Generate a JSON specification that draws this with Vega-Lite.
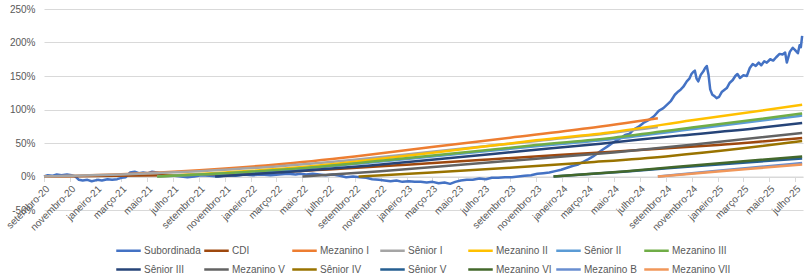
{
  "$schema": "https://vega.github.io/schema/vega-lite/v6.json",
  "width": 759,
  "height": 201,
  "autosize": {"type": "none"},
  "padding": {"left": 44, "top": 9, "right": 5, "bottom": 63},
  "config": {"view": {"stroke": null}, "font": "Liberation Sans"},
  "datasets": {
    "sub": [
      {"s":"Subordinada","d":"2020-09-01","v":0.00},{"s":"Subordinada","d":"2020-09-10","v":0.02},{"s":"Subordinada","d":"2020-09-20","v":0.01},
      {"s":"Subordinada","d":"2020-10-01","v":0.03},{"s":"Subordinada","d":"2020-10-12","v":0.02},{"s":"Subordinada","d":"2020-10-25","v":0.03},
      {"s":"Subordinada","d":"2020-11-05","v":0.02},{"s":"Subordinada","d":"2020-11-14","v":0.00},{"s":"Subordinada","d":"2020-11-22","v":-0.05},
      {"s":"Subordinada","d":"2020-12-01","v":-0.06},{"s":"Subordinada","d":"2020-12-12","v":-0.05},{"s":"Subordinada","d":"2020-12-22","v":-0.07},
      {"s":"Subordinada","d":"2021-01-05","v":-0.05},{"s":"Subordinada","d":"2021-01-15","v":-0.06},{"s":"Subordinada","d":"2021-01-28","v":-0.04},
      {"s":"Subordinada","d":"2021-02-08","v":-0.05},{"s":"Subordinada","d":"2021-02-20","v":-0.04},{"s":"Subordinada","d":"2021-03-02","v":-0.02},
      {"s":"Subordinada","d":"2021-03-12","v":-0.01},{"s":"Subordinada","d":"2021-03-22","v":0.06},{"s":"Subordinada","d":"2021-04-02","v":0.07},
      {"s":"Subordinada","d":"2021-04-12","v":0.05},{"s":"Subordinada","d":"2021-04-22","v":0.06},{"s":"Subordinada","d":"2021-05-03","v":0.05},
      {"s":"Subordinada","d":"2021-05-13","v":0.07},{"s":"Subordinada","d":"2021-05-25","v":0.06},{"s":"Subordinada","d":"2021-06-05","v":0.03},
      {"s":"Subordinada","d":"2021-06-20","v":0.02},{"s":"Subordinada","d":"2021-07-05","v":0.01},{"s":"Subordinada","d":"2021-07-20","v":0.00},
      {"s":"Subordinada","d":"2021-08-04","v":-0.01},{"s":"Subordinada","d":"2021-08-20","v":0.00},{"s":"Subordinada","d":"2021-09-05","v":0.02},
      {"s":"Subordinada","d":"2021-09-25","v":0.01},{"s":"Subordinada","d":"2021-10-15","v":0.00},{"s":"Subordinada","d":"2021-11-05","v":0.02},
      {"s":"Subordinada","d":"2021-11-25","v":0.01},{"s":"Subordinada","d":"2021-12-15","v":0.03},{"s":"Subordinada","d":"2022-01-05","v":0.02},
      {"s":"Subordinada","d":"2022-01-25","v":0.03},{"s":"Subordinada","d":"2022-02-15","v":0.02},{"s":"Subordinada","d":"2022-03-07","v":0.03},
      {"s":"Subordinada","d":"2022-03-28","v":0.04},{"s":"Subordinada","d":"2022-04-15","v":0.03},{"s":"Subordinada","d":"2022-04-26","v":0.04},
      {"s":"Subordinada","d":"2022-05-10","v":0.03},{"s":"Subordinada","d":"2022-05-25","v":0.04},{"s":"Subordinada","d":"2022-06-10","v":0.03},
      {"s":"Subordinada","d":"2022-06-25","v":0.02},{"s":"Subordinada","d":"2022-07-12","v":0.03},{"s":"Subordinada","d":"2022-07-28","v":0.01},
      {"s":"Subordinada","d":"2022-08-12","v":-0.01},{"s":"Subordinada","d":"2022-08-28","v":0.00},{"s":"Subordinada","d":"2022-09-13","v":-0.01},
      {"s":"Subordinada","d":"2022-09-28","v":-0.02},{"s":"Subordinada","d":"2022-10-12","v":-0.04},{"s":"Subordinada","d":"2022-10-28","v":-0.05},
      {"s":"Subordinada","d":"2022-11-10","v":-0.06},{"s":"Subordinada","d":"2022-11-24","v":-0.07},{"s":"Subordinada","d":"2022-12-08","v":-0.06},
      {"s":"Subordinada","d":"2022-12-22","v":-0.08},{"s":"Subordinada","d":"2023-01-06","v":-0.07},{"s":"Subordinada","d":"2023-01-20","v":-0.08},
      {"s":"Subordinada","d":"2023-02-03","v":-0.08},{"s":"Subordinada","d":"2023-02-17","v":-0.09},{"s":"Subordinada","d":"2023-03-03","v":-0.08},
      {"s":"Subordinada","d":"2023-03-17","v":-0.10},{"s":"Subordinada","d":"2023-03-31","v":-0.09},{"s":"Subordinada","d":"2023-04-13","v":-0.11},
      {"s":"Subordinada","d":"2023-04-25","v":-0.08},{"s":"Subordinada","d":"2023-05-08","v":-0.06},{"s":"Subordinada","d":"2023-05-22","v":-0.05},
      {"s":"Subordinada","d":"2023-06-05","v":-0.05},{"s":"Subordinada","d":"2023-06-21","v":-0.03},{"s":"Subordinada","d":"2023-07-06","v":-0.04},
      {"s":"Subordinada","d":"2023-07-20","v":-0.02},{"s":"Subordinada","d":"2023-08-04","v":-0.02},{"s":"Subordinada","d":"2023-08-20","v":-0.01},
      {"s":"Subordinada","d":"2023-09-05","v":-0.01},{"s":"Subordinada","d":"2023-09-20","v":0.00},{"s":"Subordinada","d":"2023-10-05","v":0.01},
      {"s":"Subordinada","d":"2023-10-20","v":0.02},{"s":"Subordinada","d":"2023-11-04","v":0.04},{"s":"Subordinada","d":"2023-11-18","v":0.05},
      {"s":"Subordinada","d":"2023-12-02","v":0.06},{"s":"Subordinada","d":"2023-12-16","v":0.08},{"s":"Subordinada","d":"2023-12-30","v":0.10},
      {"s":"Subordinada","d":"2024-01-13","v":0.13},{"s":"Subordinada","d":"2024-01-27","v":0.16},{"s":"Subordinada","d":"2024-02-08","v":0.18},
      {"s":"Subordinada","d":"2024-02-20","v":0.22},{"s":"Subordinada","d":"2024-03-03","v":0.26},{"s":"Subordinada","d":"2024-03-14","v":0.30},
      {"s":"Subordinada","d":"2024-03-25","v":0.35},{"s":"Subordinada","d":"2024-04-05","v":0.40},{"s":"Subordinada","d":"2024-04-17","v":0.45},
      {"s":"Subordinada","d":"2024-05-01","v":0.51},{"s":"Subordinada","d":"2024-05-14","v":0.56},{"s":"Subordinada","d":"2024-05-28","v":0.62},
      {"s":"Subordinada","d":"2024-06-08","v":0.64},{"s":"Subordinada","d":"2024-06-17","v":0.70},{"s":"Subordinada","d":"2024-06-28","v":0.74},
      {"s":"Subordinada","d":"2024-07-10","v":0.80},{"s":"Subordinada","d":"2024-07-22","v":0.84},{"s":"Subordinada","d":"2024-08-04","v":0.90},
      {"s":"Subordinada","d":"2024-08-15","v":0.98},{"s":"Subordinada","d":"2024-08-26","v":1.02},{"s":"Subordinada","d":"2024-09-05","v":1.08},
      {"s":"Subordinada","d":"2024-09-13","v":1.13},{"s":"Subordinada","d":"2024-09-22","v":1.22},{"s":"Subordinada","d":"2024-09-30","v":1.27},
      {"s":"Subordinada","d":"2024-10-06","v":1.30},{"s":"Subordinada","d":"2024-10-12","v":1.34},{"s":"Subordinada","d":"2024-10-20","v":1.42},
      {"s":"Subordinada","d":"2024-10-26","v":1.46},{"s":"Subordinada","d":"2024-10-31","v":1.53},{"s":"Subordinada","d":"2024-11-04","v":1.56},
      {"s":"Subordinada","d":"2024-11-08","v":1.58},{"s":"Subordinada","d":"2024-11-12","v":1.46},{"s":"Subordinada","d":"2024-11-16","v":1.42},
      {"s":"Subordinada","d":"2024-11-22","v":1.52},{"s":"Subordinada","d":"2024-11-28","v":1.57},{"s":"Subordinada","d":"2024-12-02","v":1.62},
      {"s":"Subordinada","d":"2024-12-06","v":1.65},{"s":"Subordinada","d":"2024-12-10","v":1.52},{"s":"Subordinada","d":"2024-12-14","v":1.30},
      {"s":"Subordinada","d":"2024-12-19","v":1.22},{"s":"Subordinada","d":"2024-12-24","v":1.20},{"s":"Subordinada","d":"2024-12-29","v":1.17},
      {"s":"Subordinada","d":"2025-01-04","v":1.19},{"s":"Subordinada","d":"2025-01-10","v":1.26},{"s":"Subordinada","d":"2025-01-16","v":1.29},
      {"s":"Subordinada","d":"2025-01-22","v":1.32},{"s":"Subordinada","d":"2025-01-29","v":1.40},{"s":"Subordinada","d":"2025-02-05","v":1.44},
      {"s":"Subordinada","d":"2025-02-11","v":1.50},{"s":"Subordinada","d":"2025-02-16","v":1.53},{"s":"Subordinada","d":"2025-02-22","v":1.47},
      {"s":"Subordinada","d":"2025-03-02","v":1.51},{"s":"Subordinada","d":"2025-03-10","v":1.50},{"s":"Subordinada","d":"2025-03-17","v":1.62},
      {"s":"Subordinada","d":"2025-03-24","v":1.68},{"s":"Subordinada","d":"2025-03-31","v":1.65},{"s":"Subordinada","d":"2025-04-07","v":1.70},
      {"s":"Subordinada","d":"2025-04-13","v":1.66},{"s":"Subordinada","d":"2025-04-20","v":1.72},{"s":"Subordinada","d":"2025-04-26","v":1.70},
      {"s":"Subordinada","d":"2025-05-04","v":1.75},{"s":"Subordinada","d":"2025-05-11","v":1.73},{"s":"Subordinada","d":"2025-05-18","v":1.78},
      {"s":"Subordinada","d":"2025-05-26","v":1.83},{"s":"Subordinada","d":"2025-06-02","v":1.82},{"s":"Subordinada","d":"2025-06-08","v":1.85},
      {"s":"Subordinada","d":"2025-06-12","v":1.70},{"s":"Subordinada","d":"2025-06-19","v":1.86},{"s":"Subordinada","d":"2025-06-26","v":1.92},
      {"s":"Subordinada","d":"2025-07-01","v":1.89},{"s":"Subordinada","d":"2025-07-08","v":1.84},{"s":"Subordinada","d":"2025-07-12","v":1.96},
      {"s":"Subordinada","d":"2025-07-15","v":1.93},{"s":"Subordinada","d":"2025-07-18","v":2.10}
    ],
    "other": [
      {"s":"CDI","d":"2020-09-01","v":0},{"s":"CDI","d":"2021-01-01","v":0.007},{"s":"CDI","d":"2021-07-01","v":0.02},{"s":"CDI","d":"2022-01-01","v":0.05},
      {"s":"CDI","d":"2022-07-01","v":0.105},{"s":"CDI","d":"2023-01-01","v":0.175},{"s":"CDI","d":"2023-07-01","v":0.25},{"s":"CDI","d":"2024-01-01","v":0.325},
      {"s":"CDI","d":"2024-07-01","v":0.395},{"s":"CDI","d":"2025-01-01","v":0.47},{"s":"CDI","d":"2025-07-18","v":0.575},
      {"s":"Mezanino I","d":"2020-09-01","v":0},{"s":"Mezanino I","d":"2021-03-01","v":0.035},{"s":"Mezanino I","d":"2021-09-01","v":0.095},
      {"s":"Mezanino I","d":"2022-03-01","v":0.18},{"s":"Mezanino I","d":"2022-09-01","v":0.30},{"s":"Mezanino I","d":"2023-03-01","v":0.44},
      {"s":"Mezanino I","d":"2023-09-01","v":0.58},{"s":"Mezanino I","d":"2024-03-01","v":0.72},{"s":"Mezanino I","d":"2024-08-13","v":0.87},
      {"s":"Sênior I","d":"2020-09-01","v":0},{"s":"Sênior I","d":"2021-03-01","v":0.03},{"s":"Sênior I","d":"2021-09-01","v":0.08},
      {"s":"Sênior I","d":"2022-03-01","v":0.15},{"s":"Sênior I","d":"2022-09-01","v":0.25},{"s":"Sênior I","d":"2023-03-01","v":0.37},
      {"s":"Sênior I","d":"2023-09-01","v":0.49},{"s":"Sênior I","d":"2024-03-01","v":0.61},{"s":"Sênior I","d":"2024-08-13","v":0.74},
      {"s":"Mezanino II","d":"2021-05-25","v":0},{"s":"Mezanino II","d":"2021-11-01","v":0.06},{"s":"Mezanino II","d":"2022-05-01","v":0.14},
      {"s":"Mezanino II","d":"2022-11-01","v":0.265},{"s":"Mezanino II","d":"2023-05-01","v":0.40},{"s":"Mezanino II","d":"2023-11-01","v":0.54},
      {"s":"Mezanino II","d":"2024-05-01","v":0.665},{"s":"Mezanino II","d":"2024-11-01","v":0.84},{"s":"Mezanino II","d":"2025-07-18","v":1.07},
      {"s":"Sênior II","d":"2021-05-25","v":0},{"s":"Sênior II","d":"2021-11-01","v":0.045},{"s":"Sênior II","d":"2022-05-01","v":0.115},
      {"s":"Sênior II","d":"2022-11-01","v":0.225},{"s":"Sênior II","d":"2023-05-01","v":0.335},{"s":"Sênior II","d":"2023-11-01","v":0.45},
      {"s":"Sênior II","d":"2024-05-01","v":0.56},{"s":"Sênior II","d":"2024-11-01","v":0.705},{"s":"Sênior II","d":"2025-07-18","v":0.91},
      {"s":"Mezanino III","d":"2021-05-25","v":0},{"s":"Mezanino III","d":"2021-11-01","v":0.05},{"s":"Mezanino III","d":"2022-05-01","v":0.125},
      {"s":"Mezanino III","d":"2022-11-01","v":0.235},{"s":"Mezanino III","d":"2023-05-01","v":0.35},{"s":"Mezanino III","d":"2023-11-01","v":0.47},
      {"s":"Mezanino III","d":"2024-05-01","v":0.58},{"s":"Mezanino III","d":"2024-11-01","v":0.73},{"s":"Mezanino III","d":"2025-07-18","v":0.94},
      {"s":"Sênior III","d":"2021-10-08","v":0},{"s":"Sênior III","d":"2022-04-01","v":0.07},{"s":"Sênior III","d":"2022-10-01","v":0.16},
      {"s":"Sênior III","d":"2023-04-01","v":0.27},{"s":"Sênior III","d":"2023-10-01","v":0.38},{"s":"Sênior III","d":"2024-04-01","v":0.49},
      {"s":"Sênior III","d":"2024-10-01","v":0.61},{"s":"Sênior III","d":"2025-04-01","v":0.72},{"s":"Sênior III","d":"2025-07-18","v":0.80},
      {"s":"Mezanino V","d":"2022-05-01","v":0},{"s":"Mezanino V","d":"2022-11-01","v":0.08},{"s":"Mezanino V","d":"2023-05-01","v":0.17},
      {"s":"Mezanino V","d":"2023-11-01","v":0.265},{"s":"Mezanino V","d":"2024-05-01","v":0.36},{"s":"Mezanino V","d":"2024-11-01","v":0.475},
      {"s":"Mezanino V","d":"2025-07-18","v":0.65},
      {"s":"Sênior IV","d":"2022-09-10","v":0},{"s":"Sênior IV","d":"2023-03-01","v":0.06},{"s":"Sênior IV","d":"2023-09-01","v":0.13},
      {"s":"Sênior IV","d":"2024-03-01","v":0.21},{"s":"Sênior IV","d":"2024-09-01","v":0.30},{"s":"Sênior IV","d":"2025-03-01","v":0.42},
      {"s":"Sênior IV","d":"2025-07-18","v":0.53},
      {"s":"Sênior V","d":"2023-12-12","v":0},{"s":"Sênior V","d":"2024-06-01","v":0.075},{"s":"Sênior V","d":"2024-12-01","v":0.165},{"s":"Sênior V","d":"2025-07-18","v":0.27},
      {"s":"Mezanino VI","d":"2023-12-12","v":0},{"s":"Mezanino VI","d":"2024-06-01","v":0.08},{"s":"Mezanino VI","d":"2024-12-01","v":0.18},{"s":"Mezanino VI","d":"2025-07-18","v":0.30},
      {"s":"Mezanino B","d":"2024-08-13","v":0},{"s":"Mezanino B","d":"2025-01-01","v":0.085},{"s":"Mezanino B","d":"2025-07-18","v":0.20},
      {"s":"Mezanino VII","d":"2024-08-13","v":0},{"s":"Mezanino VII","d":"2025-01-01","v":0.075},{"s":"Mezanino VII","d":"2025-07-18","v":0.18}
    ]
  },
  "encoding": {
    "x": {
      "field": "d", "type": "temporal",
      "scale": {"type": "utc", "domain": [{"year": 2020, "month": 9, "date": 1, "utc": true}, {"year": 2025, "month": 7, "date": 20, "utc": true}]},
      "axis": {
        "title": null, "offset": -33.5, "labelAngle": -45, "labelFontSize": 10, "labelColor": "#595959",
        "tickColor": "#d9d9d9", "domainColor": "#d9d9d9", "tickSize": 5, "grid": false, "labelOverlap": false,
        "labelPadding": 2, "labelFlush": false, "labelBound": false,
        "tickCount": {"interval": "month", "step": 2},
        "labelExpr": "['janeiro','fevereiro','março','abril','maio','junho','julho','agosto','setembro','outubro','novembro','dezembro'][utcmonth(datum.value)] + '-' + utcFormat(datum.value, '%y')"
      }
    },
    "y": {
      "field": "v", "type": "quantitative",
      "scale": {"domain": [-0.5, 2.5], "nice": false, "zero": false},
      "axis": {
        "title": null, "values": [-0.5, 0, 0.5, 1, 1.5, 2, 2.5], "labelExpr": "round(datum.value*100) + '%'",
        "labelColor": "#595959", "labelFontSize": 10, "domain": false, "ticks": false, "gridColor": "#d9d9d9", "labelPadding": 9
      }
    },
    "color": {
      "field": "s", "type": "nominal",
      "scale": {
        "domain": ["Subordinada","CDI","Mezanino I","Sênior I","Mezanino II","Sênior II","Mezanino III","Sênior III","Mezanino V","Sênior IV","Sênior V","Mezanino VI","Mezanino B","Mezanino VII"],
        "range": ["#4472C4","#9E480E","#ED7D31","#A5A5A5","#FFC000","#5B9BD5","#70AD47","#264478","#636363","#997300","#255E91","#43682B","#698ED0","#F1975A"]
      },
      "legend": {
        "title": null, "orient": "none", "legendX": 71, "legendY": 228, "direction": "horizontal", "columns": 7,
        "gridAlign": "all", "symbolType": "stroke", "symbolSize": 600, "symbolStrokeWidth": 2.5,
        "labelFontSize": 10, "labelColor": "#595959", "labelOffset": 2, "columnPadding": -12.5, "rowPadding": -7.5, "padding": 0
      }
    }
  },
  "layer": [
    {"data": {"name": "sub"}, "mark": {"type": "line", "strokeWidth": 2.5, "strokeJoin": "round"}},
    {"data": {"name": "other"}, "mark": {"type": "line", "strokeWidth": 2.5, "interpolate": "monotone"}}
  ]
}
